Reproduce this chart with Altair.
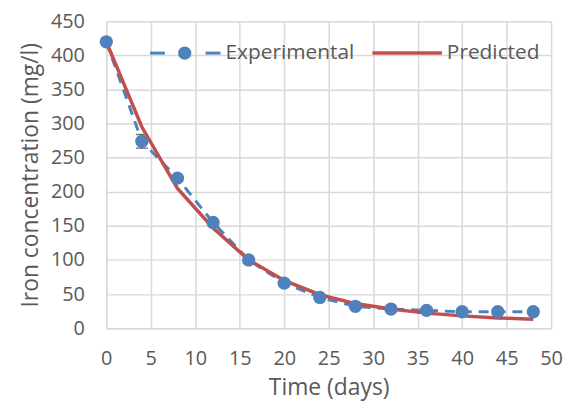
import altair as alt
import pandas as pd

time_days = [0, 4, 8, 12, 16, 20, 24, 28, 32, 36, 40, 44, 48]
experimental = [420, 274, 220, 155, 100, 66, 45, 32, 28, 26, 24, 24, 24]
exp_error = [0, 10, 0, 0, 0, 0, 0, 0, 0, 0, 0, 0, 0]
predicted = [420, 295, 205, 147, 100, 70, 49, 36, 28, 22, 18, 15, 13]
x_ticks = list(range(0, 51, 5))
y_ticks = list(range(0, 451, 50))

df = pd.DataFrame({
    "t": time_days,
    "exp": experimental,
    "lo": [e - d for e, d in zip(experimental, exp_error)],
    "hi": [e + d for e, d in zip(experimental, exp_error)],
    "pred": predicted,
})

FONT = "Open Sans"
GREY = "#595959"
BLUE = "#4F81BD"
RED = "#C0504D"

xs = alt.Scale(domain=[0, 50], nice=False)
ys = alt.Scale(domain=[0, 450], nice=False)

common = dict(grid=True, tickSize=0, labelOverlap=False, labelFlush=False,
              labelFont=FONT, titleFont=FONT, labelFontSize=20, titleFontSize=23,
              labelColor=GREY, titleColor=GREY, titleFontWeight="normal",
              gridColor="#d9d9d9", gridWidth=1.5, domainColor="#d9d9d9", domainWidth=1.5)
xax = alt.Axis(values=x_ticks, title="Time (days)", labelPadding=21, titlePadding=8, **common)
yax = alt.Axis(values=y_ticks, title="Iron concentration (mg/l)", labelPadding=22,
               titlePadding=8, **common)

X = alt.X("t:Q", scale=xs, axis=xax)

base = alt.Chart(df)

err = base.mark_rule(color="#404040", strokeWidth=1.5).encode(
    x=X, y=alt.Y("lo:Q", scale=ys, axis=yax), y2="hi:Q")
caps = base.transform_filter("datum.hi > datum.lo").transform_fold(
    ["lo", "hi"], as_=["k", "v"]).mark_tick(
    color="#404040", thickness=1.5, size=12, orient="horizontal").encode(
    x=X, y=alt.Y("v:Q", scale=ys, axis=yax))

exp_line = base.mark_line(color=BLUE, strokeWidth=3, strokeDash=[10, 7]).encode(
    x=X, y=alt.Y("exp:Q", scale=ys, axis=yax))
exp_pts = base.mark_circle(color=BLUE, size=180, opacity=1).encode(
    x=X, y=alt.Y("exp:Q", scale=ys, axis=yax))
pred_line = base.mark_line(color=RED, strokeWidth=3.5).encode(
    x=X, y=alt.Y("pred:Q", scale=ys, axis=yax))

# legend (drawn manually in pixel space)
leg_y = 32
one = pd.DataFrame({"a": [0]})
lg1a = alt.Chart(one).mark_rule(color=BLUE, strokeWidth=3).encode(
    x=alt.value(44), x2=alt.value(59), y=alt.value(leg_y))
lg1b = alt.Chart(one).mark_rule(color=BLUE, strokeWidth=3).encode(
    x=alt.value(100), x2=alt.value(115), y=alt.value(leg_y))
lg1c = alt.Chart(one).mark_circle(color=BLUE, size=180, opacity=1).encode(
    x=alt.value(79), y=alt.value(leg_y))
lg1t = alt.Chart(one).mark_text(
    text="Experimental", font=FONT, fontSize=21, color=GREY, align="left", baseline="middle").encode(
    x=alt.value(120), y=alt.value(leg_y))
lg2a = alt.Chart(one).mark_rule(color=RED, strokeWidth=3.5).encode(
    x=alt.value(268), x2=alt.value(338), y=alt.value(leg_y))
lg2t = alt.Chart(one).mark_text(
    text="Predicted", font=FONT, fontSize=21, color=GREY, align="left", baseline="middle").encode(
    x=alt.value(343), y=alt.value(leg_y))

chart = alt.layer(err, caps, exp_line, pred_line, exp_pts,
                  lg1a, lg1b, lg1c, lg1t, lg2a, lg2t).properties(
    width=448, height=309,
    autosize=alt.AutoSizeParams(type="none"),
    padding={"left": 99, "top": 12, "right": 16, "bottom": 78},
).configure_view(stroke=None)

chart.save("out.html", embed_options={"renderer": "svg", "actions": False})
